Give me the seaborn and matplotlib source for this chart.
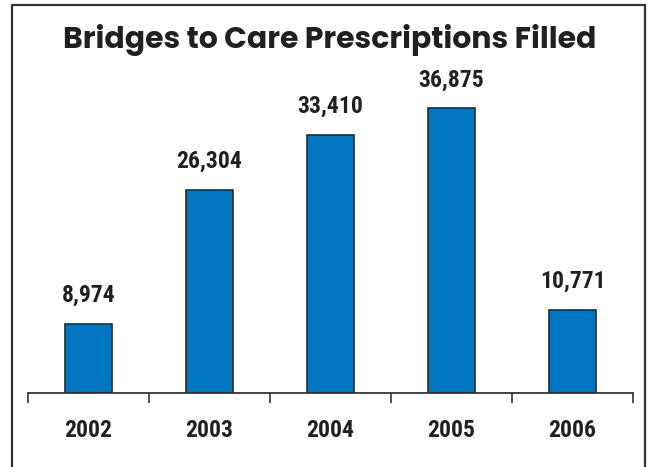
import matplotlib
matplotlib.use("Agg")
import matplotlib.pyplot as plt
import seaborn as sns
import pandas as pd
from matplotlib.lines import Line2D
from matplotlib.ticker import FixedLocator

years = ["2002", "2003", "2004", "2005", "2006"]
values = [8974, 26304, 33410, 36875, 10771]
title = "Bridges to Care Prescriptions Filled"

sns.set_style("white")
plt.rcParams['font.family'] = ['Roboto Condensed', 'DejaVu Sans']

df = pd.DataFrame({"year": years, "value": values})

fig = plt.figure(figsize=(6.49, 4.67), dpi=100)
W, H = 649, 467
ax_left, ax_right = 28 / W, 633 / W
ax_bottom = (H - 393) / H
ax_top = (H - 30) / H
ax = fig.add_axes([ax_left, ax_bottom, ax_right - ax_left, ax_top - ax_bottom])

sns.barplot(data=df, x="year", y="value", color="#0077C0", saturation=1,
            width=0.39, edgecolor="#2a2a2a", linewidth=1.2, ax=ax)

ax.set_xlim(-0.5, 4.5)
ax.set_ylim(0, 363 / 0.00773)

for c in ax.containers:
    ax.bar_label(c, labels=[f"{v:,}" for v in values], padding=12,
                 fontsize=17, fontweight="bold", color="#231f20")

for s in ["left", "right", "top"]:
    ax.spines[s].set_visible(False)
ax.spines["bottom"].set_color("#333333")
ax.spines["bottom"].set_linewidth(1.3)
ax.set_yticks([])
ax.set_xlabel("")
ax.set_ylabel("")
ax.tick_params(axis="x", which="both", bottom=True)
ax.tick_params(axis="x", which="major", length=0, pad=19, labelsize=17,
               labelcolor="#231f20")
for t in ax.get_xticklabels():
    t.set_fontweight("bold")
ax.xaxis.set_minor_locator(FixedLocator([-0.5, 0.5, 1.5, 2.5, 3.5, 4.5]))
ax.tick_params(axis="x", which="minor", length=7, width=1.2, color="#333333",
               direction="out")

fig.text(0.508, (H - 40) / H, title, ha="center", va="center",
         fontsize=21.5, fontweight="bold", color="#231f20",
         family=["Poppins", "DejaVu Sans"])

# frame
lw = 1.6
col = "#333333"
x0, x1 = 12 / W, 645 / W
y0 = (H - 5) / H
fig.add_artist(Line2D([x0, x0], [0, y0], color=col, lw=lw, transform=fig.transFigure))
fig.add_artist(Line2D([x0, x1], [y0, y0], color=col, lw=lw, transform=fig.transFigure))
fig.add_artist(Line2D([x1, x1], [0, y0], color=col, lw=lw, transform=fig.transFigure))

fig.savefig("out.png", dpi=100)
